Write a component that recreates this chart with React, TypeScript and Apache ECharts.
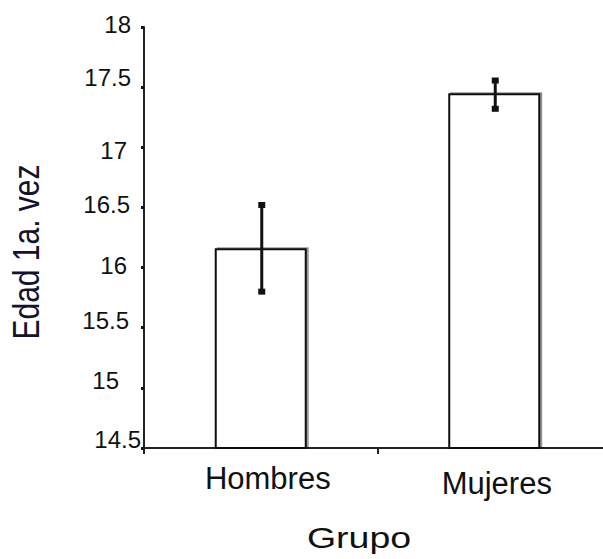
import React, { useEffect, useRef } from "react";
import * as echarts from "echarts";

// ---- data ----
const categories = ["Hombres", "Mujeres"];
const means = [16.16, 17.45];
const errLow = [15.8, 17.32];
const errHigh = [16.52, 17.555];
const yTicks = [14.5, 15, 15.5, 16, 16.5, 17, 17.5, 18];
const yAxisTitle = "Edad 1a. vez";
const xAxisTitle = "Grupo";

// ---- styles ----
const FONT = "'Liberation Sans', Arial, sans-serif";
const INK = "#111";
// per-tick label nudges [top, right, bottom, left]
const yLabelPads: number[][] = [
  [0, 0, 17, 0],
  [0, 22, 15, 0],
  [0, 12, 15, 0],
  [0, 14, 5, 0],
  [0, 11, 6, 0],
  [6, 14, 0, 0],
  [0, 10, 19, 0],
  [0, 10, 5, 0],
];
const xLabelPads: number[][] = [
  [0, 0, 0, 14],
  [5, 0, 0, 5],
];

export default function App() {
  const ref = useRef<HTMLDivElement>(null);
  useEffect(() => {
    if (!ref.current) return;
    const chart = echarts.init(ref.current, undefined, { renderer: "svg" });

    const yRich: Record<string, any> = {};
    yLabelPads.forEach((p, i) => {
      yRich["y" + i] = { fontSize: 24, fontFamily: FONT, color: INK, padding: p };
    });
    const xRich: Record<string, any> = {};
    xLabelPads.forEach((p, i) => {
      xRich["x" + i] = { fontSize: 31, fontFamily: FONT, color: INK, padding: p };
    });

    chart.setOption({
      animation: false,
      backgroundColor: "#fff",
      grid: { left: 144, top: 27, width: 467, height: 421, containLabel: false },
      xAxis: {
        type: "category",
        data: categories,
        axisLine: { onZero: false, lineStyle: { color: "#222", width: 2 } },
        axisTick: { show: true, length: 6, lineStyle: { color: "#222", width: 2 } },
        axisLabel: {
          interval: 0,
          hideOverlap: false,
          margin: 15,
          fontSize: 31,
          fontFamily: FONT,
          color: INK,
          rich: xRich,
          formatter: (v: string) => {
            const i = categories.indexOf(v);
            return "{x" + i + "|" + v + "}";
          },
        },
        splitLine: { show: false },
      },
      yAxis: {
        type: "value",
        min: 14.5,
        max: 18,
        interval: 0.5,
        axisLine: { show: true, lineStyle: { color: "#222", width: 2 } },
        axisTick: { show: true, length: 3, lineStyle: { color: INK, width: 3 } },
        splitLine: { show: false },
        axisLabel: {
          margin: 3,
          fontSize: 24,
          fontFamily: FONT,
          color: INK,
          rich: yRich,
          formatter: (v: number) => {
            const i = yTicks.findIndex((t) => Math.abs(t - v) < 1e-6);
            return "{y" + i + "|" + String(v) + "}";
          },
        },
      },
      graphic: [
        {
          type: "text",
          x: 27,
          y: 252,
          rotation: Math.PI / 2,
          scaleY: 1.2,
          style: {
            text: yAxisTitle,
            fontSize: 30,
            fontFamily: FONT,
            fill: "#14132e",
            align: "center",
            verticalAlign: "middle",
          },
        },
        {
          type: "text",
          x: 359,
          y: 537,
          scaleX: 1.25,
          style: {
            text: xAxisTitle,
            fontSize: 30,
            fontFamily: FONT,
            fill: INK,
            align: "center",
            verticalAlign: "middle",
          },
        },
      ],
      series: [
        {
          type: "bar",
          data: means,
          barWidth: 92,
          itemStyle: {
            color: "#fff",
            borderColor: INK,
            borderWidth: 2,
            shadowColor: "rgba(0,0,0,0.4)",
            shadowOffsetX: 2,
            shadowOffsetY: -1,
            shadowBlur: 0,
          },
        },
        {
          type: "custom",
          data: categories.map((_, i) => [i, errLow[i], errHigh[i]]),
          encode: { x: 0, y: [1, 2] },
          z: 10,
          renderItem: (_params: any, api: any) => {
            const lo = api.coord([api.value(0), api.value(1)]);
            const hi = api.coord([api.value(0), api.value(2)]);
            const x = lo[0] + 1;
            return {
              type: "group",
              children: [
                { type: "line", shape: { x1: x, y1: hi[1], x2: x, y2: lo[1] }, style: { stroke: INK, lineWidth: 3 } },
                { type: "rect", shape: { x: x - 3.5, y: hi[1] - 3, width: 7, height: 6 }, style: { fill: INK } },
                { type: "rect", shape: { x: x - 3.5, y: lo[1] - 3, width: 7, height: 6 }, style: { fill: INK } },
              ],
            };
          },
        },
      ],
    });
    return () => chart.dispose();
  }, []);
  return (
    <div style={{ position: "fixed", left: 0, top: 0, width: 603, height: 559, overflow: "hidden" }}>
      <div ref={ref} style={{ width: 615, height: 559 }} />
    </div>
  );
}
